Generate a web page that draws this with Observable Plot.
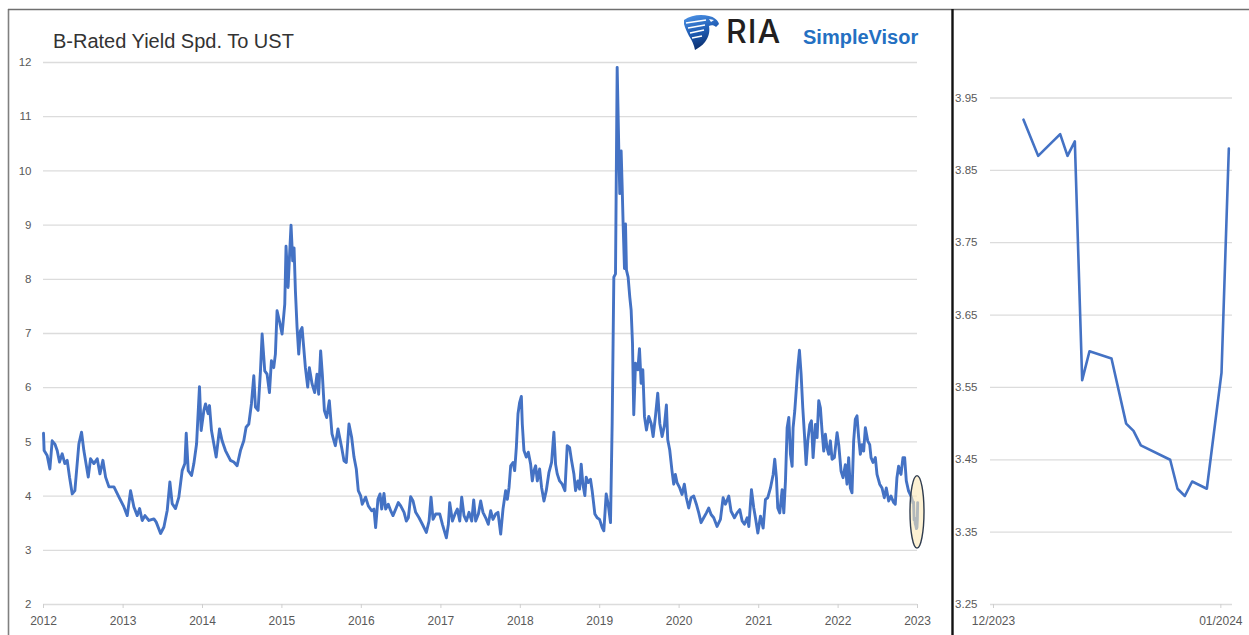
<!DOCTYPE html>
<html>
<head>
<meta charset="utf-8">
<script src="https://cdn.jsdelivr.net/npm/d3@7"></script>
<script src="https://cdn.jsdelivr.net/npm/@observablehq/plot@0.6"></script>
<style>
  html, body { margin: 0; padding: 0; background: #fff; }
  #wrap { position: relative; width: 1249px; height: 635px; overflow: hidden; background: #fff; }
  #wrap > svg { position: absolute; top: 0; }
</style>
</head>
<body>
<div id="wrap"></div>
<script>
// B-rated high-yield spread to Treasuries, 2012 through 2022 (decimal year, percent)
const spreadYears = [
  2012.000, 2012.008, 2012.046, 2012.080, 2012.109, 2012.143, 2012.172, 2012.201, 2012.235, 2012.268,
  2012.298, 2012.327, 2012.361, 2012.394, 2012.423, 2012.444, 2012.478, 2012.507, 2012.562, 2012.591,
  2012.633, 2012.675, 2012.709, 2012.746, 2012.780, 2012.822, 2012.885, 2012.948, 2013.010, 2013.052,
  2013.094, 2013.136, 2013.178, 2013.208, 2013.241, 2013.275, 2013.325, 2013.388, 2013.417, 2013.472,
  2013.514, 2013.556, 2013.589, 2013.618, 2013.660, 2013.702, 2013.744, 2013.778, 2013.795, 2013.820,
  2013.862, 2013.891, 2013.925, 2013.962, 2013.983, 2014.017, 2014.038, 2014.071, 2014.088, 2014.113,
  2014.143, 2014.172, 2014.214, 2014.247, 2014.289, 2014.352, 2014.394, 2014.436, 2014.478, 2014.520,
  2014.549, 2014.583, 2014.616, 2014.646, 2014.667, 2014.700, 2014.730, 2014.751, 2014.784, 2014.813,
  2014.843, 2014.868, 2014.897, 2014.918, 2014.939, 2014.969, 2015.002, 2015.036, 2015.052, 2015.078,
  2015.094, 2015.115, 2015.136, 2015.153, 2015.170, 2015.191, 2015.212, 2015.233, 2015.254, 2015.275,
  2015.296, 2015.325, 2015.346, 2015.380, 2015.413, 2015.442, 2015.463, 2015.488, 2015.509, 2015.535,
  2015.564, 2015.597, 2015.631, 2015.673, 2015.706, 2015.752, 2015.782, 2015.811, 2015.845, 2015.878,
  2015.908, 2015.937, 2015.962, 2015.991, 2016.012, 2016.054, 2016.088, 2016.130, 2016.159, 2016.180,
  2016.209, 2016.235, 2016.256, 2016.285, 2016.306, 2016.339, 2016.369, 2016.398, 2016.432, 2016.465,
  2016.495, 2016.537, 2016.566, 2016.591, 2016.620, 2016.650, 2016.683, 2016.725, 2016.767, 2016.817,
  2016.851, 2016.876, 2016.901, 2016.935, 2016.985, 2017.019, 2017.069, 2017.094, 2017.111, 2017.145,
  2017.178, 2017.207, 2017.237, 2017.262, 2017.291, 2017.321, 2017.354, 2017.388, 2017.413, 2017.438,
  2017.472, 2017.501, 2017.530, 2017.564, 2017.597, 2017.627, 2017.656, 2017.690, 2017.719, 2017.753,
  2017.782, 2017.815, 2017.837, 2017.858, 2017.879, 2017.908, 2017.929, 2017.950, 2017.971, 2017.992,
  2018.013, 2018.025, 2018.046, 2018.075, 2018.101, 2018.130, 2018.151, 2018.172, 2018.193, 2018.214,
  2018.243, 2018.268, 2018.298, 2018.327, 2018.361, 2018.394, 2018.423, 2018.444, 2018.465, 2018.495,
  2018.528, 2018.562, 2018.591, 2018.620, 2018.646, 2018.675, 2018.696, 2018.725, 2018.746, 2018.767,
  2018.788, 2018.813, 2018.830, 2018.855, 2018.884, 2018.905, 2018.939, 2018.968, 2018.998, 2019.031,
  2019.052, 2019.082, 2019.107, 2019.136, 2019.157, 2019.178, 2019.199, 2019.220, 2019.241, 2019.253,
  2019.270, 2019.283, 2019.295, 2019.312, 2019.325, 2019.337, 2019.358, 2019.379, 2019.396, 2019.413,
  2019.429, 2019.451, 2019.480, 2019.501, 2019.522, 2019.543, 2019.564, 2019.589, 2019.618, 2019.648,
  2019.673, 2019.702, 2019.731, 2019.757, 2019.786, 2019.815, 2019.840, 2019.857, 2019.882, 2019.911,
  2019.932, 2019.953, 2019.974, 2020.008, 2020.037, 2020.066, 2020.091, 2020.121, 2020.150, 2020.184,
  2020.217, 2020.247, 2020.276, 2020.309, 2020.343, 2020.372, 2020.402, 2020.435, 2020.477, 2020.519,
  2020.553, 2020.582, 2020.624, 2020.653, 2020.695, 2020.729, 2020.762, 2020.792, 2020.821, 2020.855,
  2020.876, 2020.909, 2020.938, 2020.959, 2020.989, 2021.022, 2021.056, 2021.085, 2021.114, 2021.148,
  2021.182, 2021.202, 2021.223, 2021.240, 2021.265, 2021.295, 2021.316, 2021.337, 2021.358, 2021.379,
  2021.400, 2021.421, 2021.433, 2021.454, 2021.475, 2021.492, 2021.513, 2021.534, 2021.555, 2021.576,
  2021.597, 2021.618, 2021.643, 2021.664, 2021.685, 2021.714, 2021.735, 2021.756, 2021.777, 2021.798,
  2021.819, 2021.840, 2021.861, 2021.882, 2021.903, 2021.924, 2021.953, 2021.987, 2022.008, 2022.037,
  2022.062, 2022.091, 2022.112, 2022.133, 2022.154, 2022.175, 2022.196, 2022.217, 2022.238, 2022.259,
  2022.280, 2022.301, 2022.322, 2022.343, 2022.373, 2022.398, 2022.415, 2022.440, 2022.469, 2022.490,
  2022.524, 2022.553, 2022.582, 2022.607, 2022.637, 2022.666, 2022.700, 2022.720, 2022.741, 2022.762,
  2022.792, 2022.817, 2022.838, 2022.859, 2022.888, 2022.918, 2022.935, 2022.943, 2022.950, 2022.957,
  2022.964, 2022.972, 2022.980, 2022.987, 2022.993, 2022.998, 2023.002
];
const spreadValues = [
  5.16, 4.84, 4.75, 4.50, 5.02, 4.96, 4.84, 4.63, 4.78, 4.60,
  4.66, 4.35, 4.04, 4.10, 4.60, 4.96, 5.18, 4.84, 4.35, 4.69,
  4.60, 4.69, 4.41, 4.66, 4.35, 4.17, 4.17, 3.98, 3.80, 3.64,
  4.10, 3.80, 3.64, 3.77, 3.55, 3.64, 3.55, 3.58, 3.52, 3.31,
  3.43, 3.74, 4.26, 3.86, 3.77, 3.98, 4.47, 4.60, 5.16, 4.47,
  4.38, 4.60, 4.96, 6.02, 5.21, 5.58, 5.70, 5.52, 5.67, 5.21,
  4.96, 4.72, 5.24, 5.02, 4.84, 4.66, 4.63, 4.56, 4.84, 5.02,
  5.27, 5.33, 5.70, 6.22, 5.64, 5.58, 6.31, 6.99, 6.31, 6.25,
  5.91, 6.50, 6.37, 6.62, 7.42, 7.23, 6.99, 7.54, 8.61, 7.85,
  8.37, 9.00, 8.34, 8.58, 7.79, 7.11, 6.62, 7.05, 7.11, 6.74,
  6.37, 6.01, 6.37, 6.07, 5.91, 6.25, 5.88, 6.68, 6.25, 5.58,
  5.45, 5.76, 5.15, 4.93, 5.24, 4.90, 4.65, 4.62, 5.33, 5.09,
  4.72, 4.50, 4.10, 4.01, 3.85, 3.98, 3.82, 3.73, 3.76, 3.42,
  3.94, 4.04, 3.76, 4.05, 3.76, 3.85, 3.73, 3.64, 3.76, 3.88,
  3.82, 3.70, 3.54, 3.60, 3.99, 3.91, 3.70, 3.60, 3.48, 3.33,
  3.54, 3.98, 3.57, 3.67, 3.67, 3.48, 3.23, 3.48, 3.88, 3.54,
  3.67, 3.76, 3.54, 3.98, 3.64, 3.54, 3.70, 3.54, 3.93, 3.54,
  3.67, 3.91, 3.70, 3.60, 3.48, 3.73, 3.57, 3.67, 3.70, 3.30,
  3.76, 4.10, 3.94, 4.16, 4.56, 4.62, 4.47, 4.90, 5.52, 5.73,
  5.84, 5.33, 4.84, 4.72, 4.81, 4.59, 4.28, 4.47, 4.56, 4.28,
  4.50, 4.16, 3.91, 4.10, 4.44, 4.62, 5.18, 4.59, 4.41, 4.28,
  4.22, 4.10, 4.93, 4.90, 4.65, 4.41, 4.10, 4.28, 4.13, 4.59,
  4.22, 4.01, 4.35, 4.25, 4.31, 4.10, 3.67, 3.60, 3.57, 3.42,
  3.36, 4.04, 3.85, 3.51, 5.34, 8.04, 8.10, 11.91, 10.37, 9.58,
  10.37, 9.70, 9.02, 8.20, 9.02, 8.17, 8.04, 7.67, 7.43, 6.82,
  5.50, 6.45, 6.33, 6.72, 6.08, 6.33, 5.47, 5.22, 5.47, 5.34,
  5.10, 5.47, 5.90, 5.34, 5.10, 5.30, 5.68, 5.04, 4.85, 4.46,
  4.22, 4.40, 4.25, 4.15, 4.03, 4.22, 3.97, 3.78, 3.97, 4.00,
  3.85, 3.69, 3.51, 3.60, 3.69, 3.78, 3.66, 3.60, 3.44, 3.57,
  3.97, 3.85, 4.00, 3.72, 3.60, 3.69, 3.75, 3.54, 3.48, 3.60,
  3.44, 4.12, 3.78, 3.60, 3.32, 3.63, 3.41, 3.94, 3.97, 4.15,
  4.40, 4.68, 4.34, 3.78, 3.69, 4.12, 3.69, 4.28, 5.26, 5.45,
  4.77, 4.55, 5.26, 5.57, 6.00, 6.37, 6.69, 6.25, 5.63, 5.14,
  4.58, 5.02, 5.32, 5.39, 4.71, 5.32, 5.08, 5.76, 5.63, 5.20,
  4.83, 5.14, 4.89, 4.77, 5.02, 4.68, 4.71, 5.17, 4.95, 4.46,
  4.34, 4.58, 4.22, 4.71, 4.15, 4.06, 5.02, 5.42, 5.48, 5.08,
  4.77, 4.95, 4.83, 5.26, 5.02, 4.95, 4.71, 4.62, 4.71, 4.40,
  4.22, 4.15, 3.97, 4.15, 3.91, 4.00, 3.88, 3.85, 4.34, 4.55,
  4.40, 4.71, 4.71, 4.28, 4.09, 4.00, 3.92, 3.87, 3.89, 3.56,
  3.60, 3.49, 3.45, 3.40, 3.42, 3.57, 3.88
];
const mainTicks = [2, 3, 4, 5, 6, 7, 8, 9, 10, 11, 12];
const mainYearTicks = ["2012", "2013", "2014", "2015", "2016", "2017", "2018", "2019", "2020", "2021", "2022", "2023"];
// the stretch of the long series circled and shown day by day in the side panel
const highlightWindow = ["2022-12-01", "2023-01-01"];

// December close-up
const decDates = [
  "2023-12-05", "2023-12-07", "2023-12-10", "2023-12-11", "2023-12-12", "2023-12-13",
  "2023-12-14", "2023-12-17", "2023-12-19", "2023-12-20", "2023-12-21", "2023-12-25",
  "2023-12-26", "2023-12-27", "2023-12-28", "2023-12-30", "2024-01-01", "2024-01-02"
];
const decValues = [
  3.92, 3.87, 3.90, 3.87, 3.89, 3.56,
  3.60, 3.59, 3.50, 3.49, 3.47, 3.45,
  3.41, 3.40, 3.42, 3.41, 3.57, 3.88
];
const decTicks = [3.25, 3.35, 3.45, 3.55, 3.65, 3.75, 3.85, 3.95];
const decDateTicks = ["2023-12-01", "2024-01-01"];

const FONT = '"Liberation Sans", Arial, Helvetica, sans-serif';
const BLUE = "#4472c4";
const GRID = "#dcdcdc";

function fromDecimalYear(t) {
  const y = Math.floor(t);
  const a = Date.UTC(y, 0, 1), b = Date.UTC(y + 1, 0, 1);
  return new Date(a + (t - y) * (b - a));
}

const series = spreadYears.map((t, i) => ({date: fromDecimalYear(t), value: spreadValues[i]}));
const december = decDates.map((d, i) => ({date: new Date(new Date(d).getTime() + 12 * 3600e3), value: decValues[i]}));

// ellipse drawn around the final month of the long series
function highlightEllipse(index, scales) {
  const [t0, t1] = highlightWindow.map((d) => new Date(d));
  const win = series.filter((d) => d.date >= t0 && d.date <= t1);
  const [lo, hi] = d3.extent(win, (d) => d.value);
  const y0 = scales.y(lo), y1 = scales.y(hi);
  const e = d3.create("svg:ellipse")
    .attr("cx", scales.x(t1))
    .attr("cy", (y0 + y1) / 2)
    .attr("rx", 7)
    .attr("ry", Math.abs(y0 - y1) / 2 + 20)
    .attr("fill", "#fbe7b5")
    .attr("fill-opacity", 0.6)
    .attr("stroke", "#2e3b4e")
    .attr("stroke-width", 1.4);
  return e.node();
}

const wrap = document.getElementById("wrap");

const mainChart = Plot.plot({
  width: 952,
  height: 635,
  marginLeft: 43,
  marginRight: 35,
  marginTop: 62,
  marginBottom: 31,
  style: {fontFamily: FONT, fontSize: "11.5px", color: "#595959", background: "transparent", overflow: "visible"},
  x: {type: "utc", domain: [new Date("2012-01-01"), new Date("2023-01-01")]},
  y: {domain: [2, 12]},
  marks: [
    Plot.gridY(mainTicks, {stroke: GRID, strokeOpacity: 1, strokeWidth: 1.3}),
    Plot.axisY(mainTicks, {tickSize: 0, tickPadding: 12, label: null, tickFormat: (d) => String(d)}),
    Plot.axisX(mainYearTicks.map((d) => new Date(d)), {
      tickSize: 4, tickPadding: 8, tickFormat: "%Y", label: null, stroke: "#cfcfcf", fontSize: 12
    }),
    Plot.lineY(series, {x: "date", y: "value", stroke: BLUE, strokeWidth: 2.9, strokeLinejoin: "round"}),
    highlightEllipse
  ]
});
mainChart.style.left = "0px";
wrap.appendChild(mainChart);

const decChart = Plot.plot({
  width: 297,
  height: 635,
  marginLeft: 38,
  marginRight: 17,
  marginTop: 97.5,
  marginBottom: 31,
  style: {fontFamily: FONT, fontSize: "11.5px", color: "#595959", background: "transparent", overflow: "visible"},
  x: {type: "utc", domain: [new Date("2023-12-01"), new Date("2024-01-03")]},
  y: {domain: [3.25, 3.95]},
  marks: [
    Plot.gridY(decTicks, {stroke: GRID, strokeOpacity: 1, strokeWidth: 1.3}),
    Plot.axisY(decTicks, {tickSize: 0, tickPadding: 13, label: null, tickFormat: (d) => d.toFixed(2)}),
    Plot.axisX(decDateTicks.map((d) => new Date(d)), {
      tickSize: 4, tickPadding: 8, tickFormat: "%m/%Y", label: null, stroke: "#cfcfcf", fontSize: 12, dx: 3
    }),
    Plot.lineY(december, {x: "date", y: "value", stroke: BLUE, strokeWidth: 2.6, strokeLinejoin: "round"})
  ]
});
decChart.style.left = "952px";
wrap.appendChild(decChart);

// frame, title and logo on top of both panels
const ov = d3.create("svg")
  .attr("width", 1249).attr("height", 635)
  .style("left", "0px").style("pointer-events", "none");

ov.append("line").attr("x1", 8.5).attr("x2", 8.5).attr("y1", 9).attr("y2", 635)
  .attr("stroke", "#808080").attr("stroke-width", 1.6);
ov.append("line").attr("x1", 8).attr("x2", 1249).attr("y1", 9.5).attr("y2", 9.5)
  .attr("stroke", "#6f6f6f").attr("stroke-width", 1.4);
ov.append("line").attr("x1", 952.5).attr("x2", 952.5).attr("y1", 9).attr("y2", 635)
  .attr("stroke", "#111").attr("stroke-width", 2.4);

ov.append("text").attr("x", 53).attr("y", 48)
  .attr("font-family", FONT).attr("font-size", 20).attr("fill", "#333")
  .text("B-Rated Yield Spd. To UST");

const defs = ov.append("defs");
const grad = defs.append("linearGradient").attr("id", "eagleFill")
  .attr("x1", 0).attr("y1", 0).attr("x2", 0.3).attr("y2", 1);
grad.append("stop").attr("offset", "0%").attr("stop-color", "#4f95e8");
grad.append("stop").attr("offset", "55%").attr("stop-color", "#1f5cb4");
grad.append("stop").attr("offset", "100%").attr("stop-color", "#0b2f6e");

const eagle = ov.append("g").attr("transform", "translate(683,14)");
eagle.append("path")
  .attr("d", "M1,6 C8,1 18,0 26,2 C31,3 35,6 36,10 L33,13 C31,11 28,11 26,12 C27,17 26,23 22,28 C19,32 15,34 12,36 C11,31 9,26 6,22 C4,18 2,14 1,10 Z")
  .attr("fill", "url(#eagleFill)");
eagle.append("path")
  .attr("d", "M3,9 L23,6 M5,14 L22,11 M7,19 L21,16 M9,24 L19,22")
  .attr("stroke", "#fff").attr("stroke-width", 1.5).attr("fill", "none");
eagle.append("path").attr("d", "M26,5 L31,6 L28,8 Z").attr("fill", "#fff");

ov.append("text").attr("x", 726).attr("y", 43)
  .attr("font-family", "Inter, " + FONT).attr("font-size", 32).attr("font-weight", 500).attr("letter-spacing", 1)
  .attr("fill", "#231f20").text("RIA");
ov.append("text").attr("x", 803).attr("y", 43.5)
  .attr("font-family", FONT).attr("font-size", 20).attr("font-weight", "bold")
  .attr("fill", "#2470c2").text("SimpleVisor");

wrap.appendChild(ov.node());
</script>
</body>
</html>
